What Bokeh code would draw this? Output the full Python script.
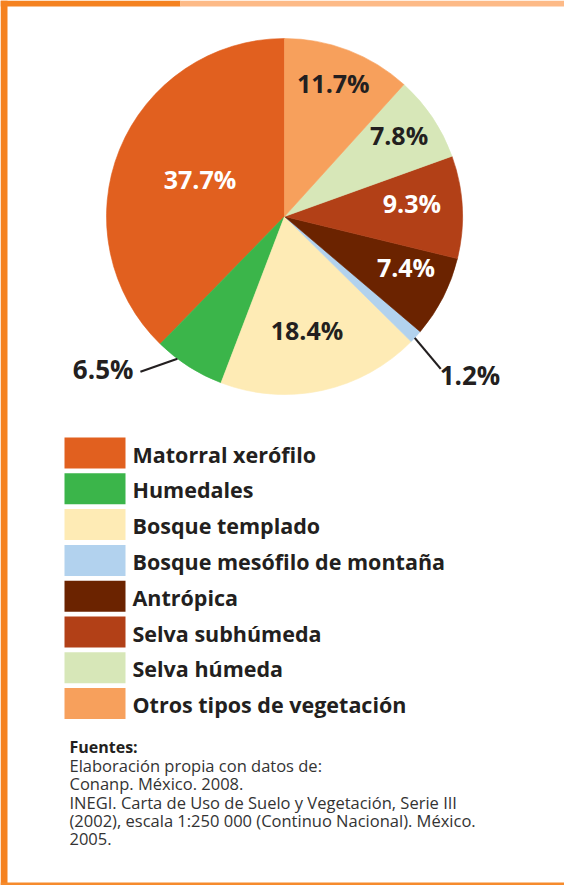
import numpy as np
from bokeh.plotting import figure
from bokeh.models import Range1d
from bokeh.core.properties import value
from bokeh.embed import file_html
from bokeh.resources import INLINE

# ---------------- data ----------------
categories = ["Matorral xerófilo", "Humedales", "Bosque templado",
              "Bosque mesófilo de montaña", "Antrópica", "Selva subhúmeda",
              "Selva húmeda", "Otros tipos de vegetación"]
percentages = [37.7, 6.5, 18.4, 1.2, 7.4, 9.3, 7.8, 11.7]
pct_labels = ["37.7%", "6.5%", "18.4%", "1.2%", "7.4%", "9.3%", "7.8%", "11.7%"]
colors = ["#e1601f", "#3bb54a", "#feebb5", "#b2d2ee",
          "#6b2300", "#b24017", "#d7e7b8", "#f7a05c"]
label_colors = ["white", "#231f20", "#231f20", "#231f20",
                "white", "white", "#231f20", "#231f20"]
source_title = "Fuentes:"
source_lines = ["Elaboración propia con datos de:",
                "Conanp. México. 2008.",
                "INEGI. Carta de Uso de Suelo y Vegetación, Serie III",
                "(2002), escala 1:250 000 (Continuo Nacional). México.",
                "2005."]

# ---------------- layout constants ----------------
W, H = 564, 885
def X(px): return px
def Y(py): return -py

FONT = "Open Sans"
DARK = "#231f20"

p = figure(width=W, height=H, x_range=Range1d(0, W), y_range=Range1d(-H, 0),
           output_backend="svg", toolbar_location=None, min_border=0)
p.axis.visible = False
p.grid.visible = False
p.outline_line_color = None
p.background_fill_color = "white"
p.border_fill_color = "white"

# frame
p.quad(left=[0, X(180)], right=[X(180), W], top=[0, 0], bottom=[-6, -6],
       fill_color=["#f58220", "#fdba87"], line_color=None)
p.quad(left=[0], right=[7], top=[0], bottom=[-H], fill_color="#f58220", line_color=None)
p.quad(left=[0], right=[W], top=[Y(882)], bottom=[-H], fill_color="#f68b2c", line_color=None)

# pie
cx, cy, R = X(284), Y(216), 178
frac = np.array(percentages) / 100.0
cum = np.concatenate([[0], np.cumsum(frac)])
start = np.pi / 2 + 2 * np.pi * cum[:-1]
end = np.pi / 2 + 2 * np.pi * cum[1:]
p.wedge(x=cx, y=cy, radius=R, start_angle=start, end_angle=end,
        direction="anticlock", fill_color=colors, line_color=colors, line_width=0.6)

mid = (start + end) / 2
# inside-label placement (radius fraction, angle shift in degrees); None = outside
label_r = [0.52, None, 0.65, None, 0.74, 0.72, 0.79, 0.80]
label_shift = [-2.0, 0, -1.0, 0, 4.3, 3.1, 1.6, 1.0]
in_x, in_y, in_t, in_c = [], [], [], []
for i, r in enumerate(label_r):
    if r is None:
        continue
    a = mid[i] + np.radians(label_shift[i])
    in_x.append(cx + r * R * np.cos(a))
    in_y.append(cy + r * R * np.sin(a))
    in_t.append(pct_labels[i])
    in_c.append(label_colors[i])
p.text(x=in_x, y=in_y, text=in_t, text_color=in_c, text_align="center",
       text_baseline="middle", text_font=value(FONT), text_font_size="25px",
       text_font_style="bold")

# outside labels with leader lines: (index, angle shift, dx, dy, align, text dx, text dy)
outside = [(1, -4.4, -37, -13, "right", -7, 3),
           (3, -0.5, 26, -31, "left", -1, -6)]
for i, sh, dx, dy, al, tdx, tdy in outside:
    a = mid[i] + np.radians(sh)
    x0 = cx + R * np.cos(a)
    y0 = cy + R * np.sin(a)
    p.segment(x0=[x0], y0=[y0], x1=[x0 + dx], y1=[y0 + dy], line_color=DARK, line_width=2.2)
    p.text(x=[x0 + dx + tdx], y=[y0 + dy + tdy], text=[pct_labels[i]], text_color=DARK,
           text_align=al, text_baseline="middle", text_font=value(FONT),
           text_font_size="26px", text_font_style="bold")

# legend
n = len(categories)
leg_y = [Y(452.5 + 35.8 * i) for i in range(n)]
p.rect(x=[X(94.5)] * n, y=leg_y, width=61, height=31, fill_color=colors, line_color=None)
p.text(x=[X(132)] * n, y=[v - 1 for v in leg_y], text=categories, text_color=DARK,
       text_align="left", text_baseline="middle", text_font=value(FONT),
       text_font_size="21.5px", text_font_style="bold")

# sources
p.text(x=[X(69)], y=[Y(746)], text=[source_title], text_color=DARK, text_align="left",
       text_baseline="middle", text_font=value(FONT), text_font_size="16px",
       text_font_style="bold")
p.text(x=[X(69)] * len(source_lines), y=[Y(765 + 18.4 * i) for i in range(len(source_lines))],
       text=source_lines, text_color="#333333", text_align="left", text_baseline="middle",
       text_font=value(FONT), text_font_size="16.5px")

open("out.html", "w").write(file_html(p, INLINE))
